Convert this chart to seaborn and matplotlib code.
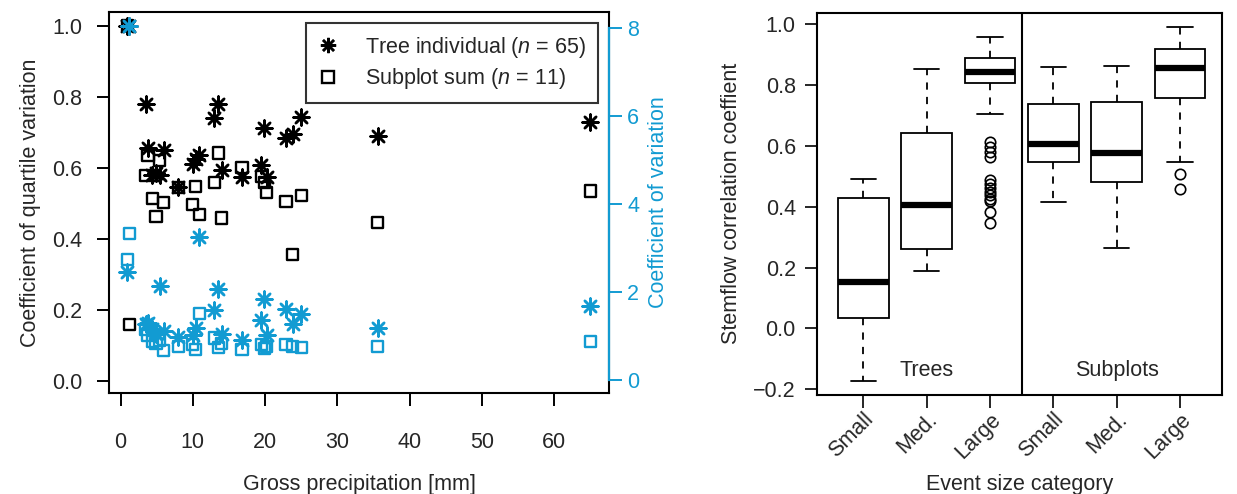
import matplotlib
matplotlib.use("Agg")
import matplotlib.pyplot as plt
import numpy as np
import pandas as pd
import seaborn as sns
from matplotlib.lines import Line2D

# ---------------- data: left panel ----------------
precip = [0.9, 1.2, 3.5, 3.8, 4.4, 4.9, 5.4, 6.0, 8.0, 10.0, 10.4, 10.9,
          13.0, 13.5, 14.0, 16.8, 19.5, 19.9, 20.2, 22.9, 23.8, 25.0, 35.6, 65.0]
cqv_tree = [1.00, 1.00, 0.78, 0.655, 0.58, 0.585, 0.58, 0.65, 0.545, 0.61, 0.625, 0.635,
            0.74, 0.78, 0.595, 0.575, 0.608, 0.713, 0.575, 0.684, 0.695, 0.743, 0.69, 0.73]
cqv_sub = [1.00, 0.16, 0.578, 0.636, 0.513, 0.462, 0.62, 0.502, 0.545, 0.496, 0.547, 0.468,
           0.56, 0.642, 0.459, 0.60, 0.575, 0.558, 0.53, 0.505, 0.355, 0.521, 0.445, 0.535]
cv_tree = [2.46, 8.05, 1.27, 1.30, 1.15, 1.05, 2.14, 1.10, 0.98, 1.02, 1.18, 3.25,
           1.58, 2.07, 1.05, 0.91, 1.36, 1.84, 1.02, 1.61, 1.27, 1.50, 1.18, 1.67]
cv_sub = [2.73, 3.32, 1.15, 1.00, 0.88, 0.82, 0.90, 0.66, 0.76, 0.80, 0.68, 1.50,
          0.95, 0.73, 0.82, 0.68, 0.80, 0.72, 0.76, 0.80, 0.76, 0.73, 0.76, 0.87]
xticks_left = [0, 10, 20, 30, 40, 50, 60]
yticks_left = [0.0, 0.2, 0.4, 0.6, 0.8, 1.0]
yticks_right = [0, 2, 4, 6, 8]
legend_labels = [r"Tree individual ($n$ = 65)", r"Subplot sum ($n$ = 11)"]

# ---------------- data: right panel ----------------
box_groups = ["T-Small", "T-Med", "T-Large", "S-Small", "S-Med", "S-Large"]
box_ticklabels = ["Small", "Med.", "Large", "Small", "Med.", "Large"]
trees_small = [-0.172, 0.033, 0.151, 0.430, 0.490]
trees_med = [0.188, 0.261, 0.407, 0.641, 0.852]
trees_large = [0.347, 0.382, 0.418, 0.427, 0.438, 0.450, 0.462, 0.474, 0.488,
               0.564, 0.581, 0.597, 0.614,
               0.705, 0.806,
               0.808, 0.811, 0.813, 0.816, 0.819, 0.821, 0.824, 0.827, 0.830, 0.832, 0.835, 0.838, 0.841,
               0.843,
               0.846, 0.848, 0.851, 0.855, 0.858, 0.861, 0.864, 0.868, 0.872, 0.876, 0.880, 0.884, 0.887,
               0.890,
               0.893, 0.896, 0.899, 0.902, 0.905, 0.909, 0.913, 0.918, 0.923, 0.929, 0.936, 0.944, 0.951,
               0.959]
subs_small = [0.414, 0.548, 0.606, 0.737, 0.861]
subs_med = [0.265, 0.482, 0.576, 0.745, 0.864]
subs_large = [0.457, 0.508, 0.547, 0.757, 0.790, 0.825, 0.855, 0.872, 0.898, 0.919, 0.945, 0.968, 0.992]
yticks_box = [-0.2, 0.0, 0.2, 0.4, 0.6, 0.8, 1.0]
panel_labels = ["Trees", "Subplots"]

# ---------------- style ----------------
sns.set_style("ticks")
plt.rcParams["font.family"] = ["Liberation Sans", "DejaVu Sans"]
plt.rcParams["mathtext.fontset"] = "custom"
plt.rcParams["mathtext.rm"] = "Liberation Sans"
plt.rcParams["mathtext.it"] = "Liberation Sans:italic"
plt.rcParams["axes.unicode_minus"] = True
FS = 15.5
BLUE = "#129bd2"
STAR = (8, 2, 0)

fig = plt.figure(figsize=(12.37, 4.94), dpi=100)

# ---------------- left panel ----------------
ax = fig.add_axes([109 / 1237, 1 - 393 / 494, 500 / 1237, 381 / 494])
ax2 = ax.twinx()

sns.scatterplot(x=precip, y=cqv_sub, ax=ax, marker="s", s=64, facecolor="none",
                edgecolor="black", linewidth=1.7, legend=False, zorder=3)
sns.scatterplot(x=precip, y=cqv_tree, ax=ax, marker=STAR, s=130, color="black",
                edgecolor="black", linewidth=1.8, legend=False, zorder=4)
sns.scatterplot(x=precip, y=cv_sub, ax=ax2, marker="s", s=64, facecolor="none",
                edgecolor=BLUE, linewidth=1.7, legend=False, zorder=3)
sns.scatterplot(x=precip, y=cv_tree, ax=ax2, marker=STAR, s=130, color=BLUE,
                edgecolor=BLUE, linewidth=1.8, legend=False, zorder=4)

ax.set_xlim(-1.6, 67.6)
ax.set_ylim(-0.034, 1.039)
ax2.set_ylim(-0.3, 8.36)
ax.set_xticks(xticks_left)
ax.set_xticklabels([str(v) for v in xticks_left])
ax.set_yticks(yticks_left)
ax.set_yticklabels([f"{v:.1f}" for v in yticks_left])
ax2.set_yticks(yticks_right)
ax2.set_yticklabels([str(v) for v in yticks_right])

for sp in ax.spines.values():
    sp.set_visible(True)
    sp.set_color("black")
    sp.set_linewidth(1.5)
for name, sp in ax2.spines.items():
    sp.set_visible(name == "right")
ax2.spines["right"].set_color(BLUE)
ax2.spines["right"].set_linewidth(1.6)
ax2.spines["right"].set_bounds(0, 8)

ax.tick_params(axis="both", direction="out", length=9, width=1.4, labelsize=FS, color="black")
ax.tick_params(axis="y", pad=10)
ax.tick_params(axis="x", pad=19)
ax2.tick_params(axis="y", direction="out", length=9, width=1.4, labelsize=FS,
                colors=BLUE, pad=4)

ax.set_xlabel("Gross precipitation [mm]", fontsize=FS, labelpad=15)
ax.set_ylabel("Coefficient of quartile variation", fontsize=FS, labelpad=8)
ax2.set_ylabel("Coefficient of variation", fontsize=FS, color=BLUE, labelpad=6)

handles = [Line2D([], [], marker=STAR, color="black", linestyle="none", markersize=11, markeredgewidth=1.8),
           Line2D([], [], marker="s", color="black", markerfacecolor="none", linestyle="none",
                  markersize=8, markeredgewidth=1.7)]
leg = ax.legend(handles, legend_labels, loc="upper right", bbox_to_anchor=(0.978, 0.971),
                fontsize=FS, frameon=True, fancybox=False, borderpad=0.55,
                handlelength=1.0, handletextpad=1.2, labelspacing=0.3, borderaxespad=0)
leg.get_frame().set_edgecolor("black")
leg.get_frame().set_linewidth(1.5)

# ---------------- right panel ----------------
bx = fig.add_axes([816.7 / 1237, 1 - 395 / 494, 405 / 1237, 382.3 / 494])
groups_data = [trees_small, trees_med, trees_large, subs_small, subs_med, subs_large]
df = pd.DataFrame({
    "group": np.concatenate([[g] * len(d) for g, d in zip(box_groups, groups_data)]),
    "value": np.concatenate(groups_data),
})
sns.boxplot(data=df, x="group", y="value", order=box_groups, ax=bx, width=0.8,
            color="white", linecolor="black", linewidth=1.3, saturation=1,
            whiskerprops=dict(linestyle=(0, (4, 4)), linewidth=1.3),
            capprops=dict(linewidth=1.3),
            medianprops=dict(linewidth=4.5, color="black"),
            flierprops=dict(marker="o", markerfacecolor="none", markeredgecolor="black",
                            markersize=7.5, markeredgewidth=1.2))

bx.set_xlim(-0.736, 5.66)
bx.set_ylim(-0.219, 1.038)
bx.axvline(2.5, color="black", linewidth=1.5)
bx.set_yticks(yticks_box)
bx.set_yticklabels([f"{v:.1f}".replace("-", "\u2212") for v in yticks_box])
bx.set_xticks(range(len(box_groups)))
bx.set_xticklabels(box_ticklabels, rotation=45, ha="right", rotation_mode="anchor")
for sp in bx.spines.values():
    sp.set_visible(True)
    sp.set_color("black")
    sp.set_linewidth(1.5)
bx.tick_params(axis="both", direction="out", length=9, width=1.4, labelsize=FS)
bx.tick_params(axis="y", pad=6)
bx.tick_params(axis="x", pad=1)
bx.set_xlabel("Event size category", fontsize=FS, labelpad=8)
bx.set_ylabel("Stemflow correlation coeffient", fontsize=FS, labelpad=8)
bx.text(1, -0.137, panel_labels[0], fontsize=FS, ha="center", va="center")
bx.text(4, -0.137, panel_labels[1], fontsize=FS, ha="center", va="center")

fig.savefig("out.png", dpi=100)
